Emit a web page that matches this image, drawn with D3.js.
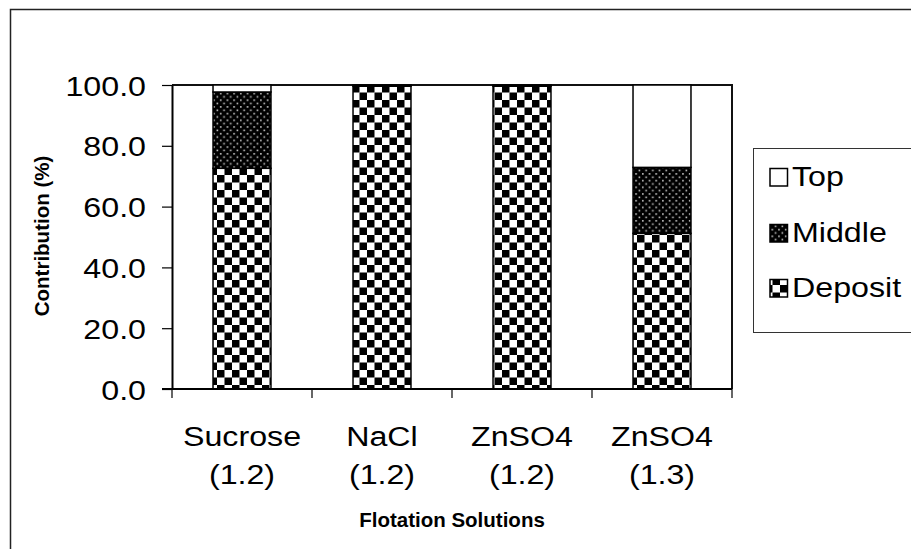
<!DOCTYPE html>
<html>
<head>
<meta charset="utf-8">
<script src="https://cdn.jsdelivr.net/npm/d3@7"></script>
<style>
  html, body { margin: 0; padding: 0; background: #fff; }
  svg { display: block; }
  text { font-family: "Liberation Sans", Arial, sans-serif; fill: #000; }
</style>
</head>
<body>
<svg id="chart" width="911" height="549"></svg>
<script>
// Flotation solutions compared, with the share recovered from each layer (%)
const categories = ["Sucrose|(1.2)", "NaCl|(1.2)", "ZnSO4|(1.2)", "ZnSO4|(1.3)"];
const depositValues = [72.6, 99.6, 99.6, 51.2];
const middleValues  = [25.1, 0.4, 0.4, 21.7];
const topValues     = [2.3, 0.0, 0.0, 27.1];
const seriesNames   = ["Top", "Middle", "Deposit"];
const yTicks        = [0, 20, 40, 60, 80, 100];

const svg = d3.select("#chart");
const W = 911, H = 549;
const margin = { left: 172, right: W - 732, top: 85, bottom: H - 389 };
const innerW = W - margin.left - margin.right;
const innerH = H - margin.top - margin.bottom;
const SX = 1.15; // horizontal stretch of the regular-weight labels

// fill patterns
const defs = svg.append("defs");
const chk = defs.append("pattern").attr("id", "pat-deposit")
  .attr("patternUnits", "userSpaceOnUse").attr("width", 15).attr("height", 15);
chk.append("rect").attr("width", 15).attr("height", 15).attr("fill", "#fff");
chk.append("rect").attr("x", 0).attr("y", 0).attr("width", 7.5).attr("height", 7.5).attr("fill", "#000");
chk.append("rect").attr("x", 7.5).attr("y", 7.5).attr("width", 7.5).attr("height", 7.5).attr("fill", "#000");

const dots = defs.append("pattern").attr("id", "pat-middle")
  .attr("patternUnits", "userSpaceOnUse").attr("width", 6.7).attr("height", 6.7);
dots.append("rect").attr("width", 6.7).attr("height", 6.7).attr("fill", "#000");
dots.append("rect").attr("x", 1).attr("y", 1).attr("width", 1.6).attr("height", 1.6).attr("fill", "#c8c8c8");
dots.append("rect").attr("x", 4.35).attr("y", 4.35).attr("width", 1.6).attr("height", 1.6).attr("fill", "#c8c8c8");

const fills = { "Top": "#fff", "Middle": "url(#pat-middle)", "Deposit": "url(#pat-deposit)" };

// outer chart frame (runs off the right and bottom edges)
svg.append("path")
  .attr("d", `M10.5,${H + 10} V9.5 H${W + 10}`)
  .attr("fill", "none").attr("stroke", "#222").attr("stroke-width", 1.5);

const g = svg.append("g").attr("transform", `translate(${margin.left},${margin.top})`);

const x = d3.scaleBand().domain(categories).range([0, innerW]).padding(0);
const y = d3.scaleLinear().domain([0, 100]).range([innerH, 0]);
const barW = x.bandwidth() * 0.414;

// plot area frame (top and right)
g.append("path")
  .attr("d", `M0,${y(100)} H${innerW} V${y(0)}`)
  .attr("fill", "none").attr("stroke", "#111").attr("stroke-width", 2);

// stacked data
const rows = categories.map((c, i) => ({ cat: c, Deposit: depositValues[i], Middle: middleValues[i], Top: topValues[i] }));
const stack = d3.stack().keys(["Deposit", "Middle", "Top"])(rows);

g.append("g").selectAll("g")
  .data(stack)
  .join("g")
  .attr("fill", d => fills[d.key])
  .selectAll("rect")
  .data(d => d.filter(s => s[1] - s[0] > 0))
  .join("rect")
  .attr("x", d => x(d.data.cat) + (x.bandwidth() - barW) / 2)
  .attr("y", d => y(d[1]))
  .attr("width", barW)
  .attr("height", d => y(d[0]) - y(d[1]))
  .attr("stroke", "#000")
  .attr("stroke-width", 1.5);

// y axis
const yAxis = g.append("g")
  .call(d3.axisLeft(y).tickValues(yTicks).tickFormat(d3.format(".1f")).tickSize(10).tickSizeOuter(0));
yAxis.select(".domain").attr("stroke", "#000").attr("stroke-width", 2);
yAxis.selectAll(".tick line").attr("stroke", "#000").attr("stroke-width", 1.2);
yAxis.selectAll(".tick text")
  .attr("x", -26 / SX)
  .attr("dy", "0.36em")
  .attr("transform", `scale(${SX},1)`)
  .style("font-size", "28px")
  .style("font-family", "'Liberation Sans', Arial, sans-serif")
  .attr("fill", "#000");

// x axis baseline and category boundary ticks
g.append("line")
  .attr("x1", -10).attr("x2", innerW)
  .attr("y1", y(0)).attr("y2", y(0))
  .attr("stroke", "#000").attr("stroke-width", 2);
const bounds = categories.map(c => x(c)).concat([x(categories[categories.length - 1]) + x.bandwidth()]);
g.append("g").selectAll("line")
  .data(bounds)
  .join("line")
  .attr("x1", d => d).attr("x2", d => d)
  .attr("y1", y(0)).attr("y2", y(0) + 9)
  .attr("stroke", "#000").attr("stroke-width", 1.2);

// category labels (two lines)
const catLabels = g.append("g").selectAll("g")
  .data(categories)
  .join("g")
  .attr("transform", d => `translate(${x(d) + x.bandwidth() / 2},0) scale(${SX},1)`);
catLabels.append("text")
  .attr("text-anchor", "middle")
  .attr("y", 446 - margin.top)
  .style("font-size", "28px")
  .text(d => d.split("|")[0]);
catLabels.append("text")
  .attr("text-anchor", "middle")
  .attr("y", 484 - margin.top)
  .style("font-size", "28px")
  .text(d => d.split("|")[1]);

// axis titles
svg.append("text")
  .attr("x", margin.left + innerW / 2)
  .attr("y", 527)
  .attr("text-anchor", "middle")
  .style("font-size", "20.5px").style("font-weight", "bold")
  .text("Flotation Solutions");

svg.append("text")
  .attr("transform", `translate(49,236) rotate(-90)`)
  .attr("text-anchor", "middle")
  .style("font-size", "20.5px").style("font-weight", "bold")
  .text("Contribution (%)");

// legend
const legend = svg.append("g");
legend.append("rect")
  .attr("x", 753.5).attr("y", 148.5)
  .attr("width", 200).attr("height", 184)
  .attr("fill", "#fff").attr("stroke", "#333").attr("stroke-width", 1);
const baselines = [186, 242, 297];
const items = legend.selectAll("g.item")
  .data(seriesNames)
  .join("g").attr("class", "item");
items.append("rect")
  .attr("x", 770).attr("y", (d, i) => baselines[i] - 17.5)
  .attr("width", 17.5).attr("height", 17.5)
  .attr("fill", d => fills[d])
  .attr("stroke", "#000").attr("stroke-width", 1.5);
items.append("text")
  .attr("transform", (d, i) => `translate(792,${baselines[i]}) scale(${SX},1)`)
  .style("font-size", "28px")
  .text(d => d);
</script>
</body>
</html>
